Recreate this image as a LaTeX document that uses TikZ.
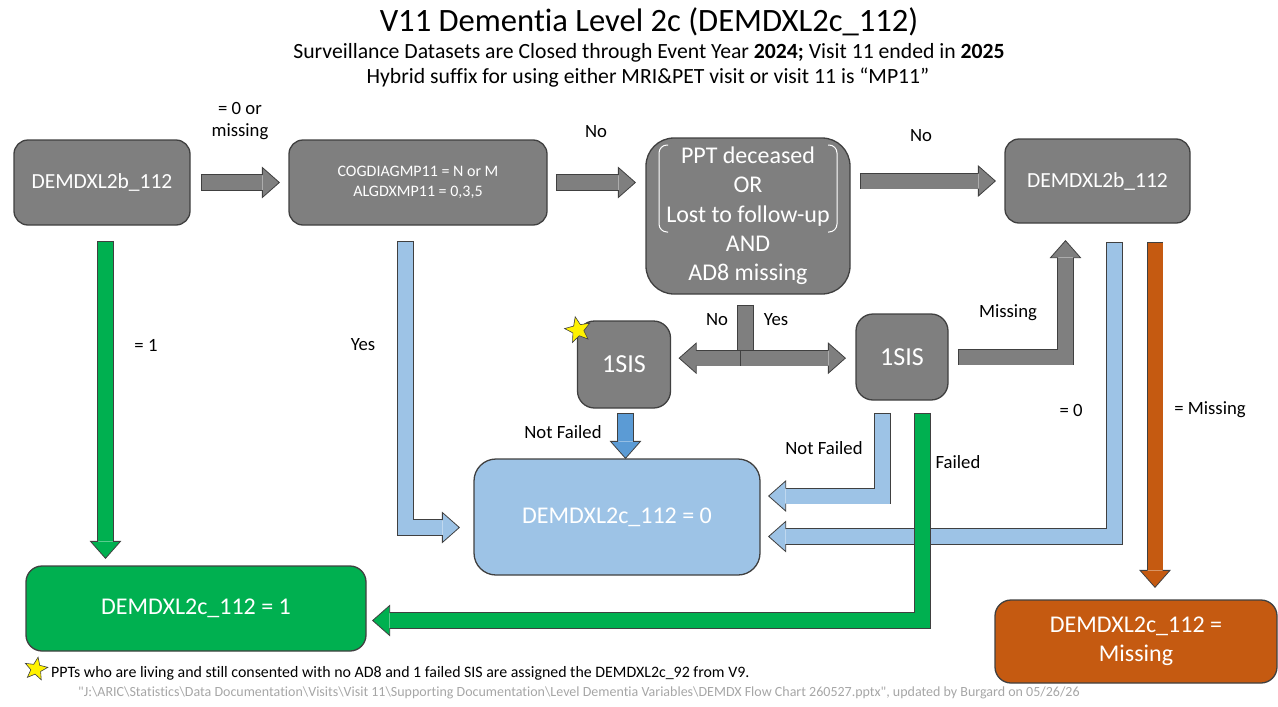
\documentclass[tikz,border=0pt]{standalone}
\usepackage{fontspec}
\setmainfont{Carlito}[Ligatures=NoCommon]
\usetikzlibrary{calc,shapes.geometric}
\definecolor{boxgray}{HTML}{7F7F7F}
\definecolor{edgec}{HTML}{404040}
\definecolor{lblue}{HTML}{9DC3E6}
\definecolor{mblue}{HTML}{5B9BD5}
\definecolor{dgreen}{HTML}{00B050}
\definecolor{rust}{HTML}{C55A11}
\definecolor{pathgray}{HTML}{A6A6A6}
\newcommand\fs[2]{\fontsize{#1}{#2}\selectfont}
\begin{document}
\begin{tikzpicture}[x=1pt, y=-1pt,
  box/.style={draw=edgec, line width=1.3pt, rounded corners=#1, align=center, text=white, inner sep=0pt},
  box/.default=14pt,
  bar/.style={line width=15pt, draw=#1, line join=miter, preaction={draw=edgec, line width=16.6pt, shorten <=-0.8pt}},
  hd/.style={fill=#1, draw=edgec, line width=0.8pt, line join=miter},
  lbl/.style={font=\fs{18.7}{22.5}, align=center},
  pics/bhead/.style={code={\filldraw[pic actions] (0,-7.5) -- (0,-15) -- (17,0) -- (0,15) -- (0,7.5);}}]
\useasboundingbox (0,0) rectangle (1278,707);
%
% title
\node[anchor=base, font=\fs{32.6}{38}] (title) at (649,31) {V11 Dementia Level 2c (DEMDXL2c\_112)};
\node[anchor=base, font=\fs{21.7}{25}] (sub1) at (649,58) {Surveillance Datasets are Closed through Event Year \textbf{2024;} Visit 11 ended in \textbf{2025}};
\node[anchor=base, font=\fs{21.7}{25}] (sub2) at (648,83) {Hybrid suffix for using either MRI\&PET visit or visit 11 is “MP11”};
%
% boxes
\node[box, fill=boxgray, minimum width=176pt, minimum height=85pt, font=\fs{21.5}{26}] (A) at (102,182.5) {DEMDXL2b\_112};
\node[box, fill=boxgray, minimum width=258pt, minimum height=85pt, font=\fs{16}{20}] (B) at (418,182.5) {COGDIAGMP11 = N or M\\ALGDXMP11 = 0,3,5};
\node[box=28pt, fill=boxgray, minimum width=204pt, minimum height=156pt, font=\fs{24}{29.3}] (C) at (748,216) {PPT deceased\\OR\\Lost to follow-up\\AND\\AD8 missing};
\node[box, fill=boxgray, minimum width=185pt, minimum height=84pt, font=\fs{21.5}{26}] (D) at (1097.5,181) {DEMDXL2b\_112};
\node[box=17pt, fill=boxgray, minimum width=93pt, minimum height=87pt, font=\fs{26}{30}] (E) at (624,364.5) {1SIS};
\node[box=17pt, fill=boxgray, minimum width=92pt, minimum height=86pt, font=\fs{26}{30}] (F) at (902,357) {1SIS};
\node[box=22pt, fill=lblue, minimum width=286pt, minimum height=116pt, font=\fs{24}{29}] (G) at (617,517) {DEMDXL2c\_112 = 0};
\node[box=16pt, fill=dgreen, minimum width=340pt, minimum height=85pt, font=\fs{24}{29}] (H) at (196,608.5) {DEMDXL2c\_112 = 1};
\node[box=16pt, fill=rust, minimum width=282pt, minimum height=83pt, font=\fs{24}{29.3}] (I) at (1136,641.5) {DEMDXL2c\_112 =\\Missing};
%
% bracket pair inside C
\draw[white, line width=1pt, rounded corners=8pt, shift={(C.center)}] (-80,-71) -| (-89,16) -- (-80,16);
\draw[white, line width=1pt, rounded corners=8pt, shift={(C.center)}] (80,-71) -| (89,16) -- (80,16);
%
% stars
\node[star, star points=5, star point ratio=2.3, fill=yellow, draw=edgec, line width=0.6pt, minimum size=27pt, inner sep=0pt, rotate=12] (st1) at (578,330) {};
\node[star, star points=5, star point ratio=2.3, fill=yellow, draw=edgec, line width=0.6pt, minimum size=24pt, inner sep=0pt, rotate=-10] (st2) at (36,669) {};
%
% top row
\draw[bar=boxgray] ($(A.east)+(11,0)$) -- ($(B.west)+(-26,0)$) coordinate (abH);
\pic[hd=boxgray] at (abH) {bhead};
\draw[bar=boxgray] ($(B.east)+(9,0)$) -- ($(B.east -| C.west)+(-27,0)$) coordinate (bcH);
\pic[hd=boxgray] at (bcH) {bhead};
\draw[bar=boxgray] ($(D.west -| C.east)+(10,0)$) -- ($(D.west)+(-26,0)$) coordinate (cdH);
\pic[hd=boxgray] at (cdH) {bhead};
%
% fork under C
\coordinate (fork) at ($(C.south)+(-2.5,63.5)$);
\draw[bar=boxgray] ($(C.south)+(-2.5,11)$) -- (fork);
\draw[bar=boxgray] ($(fork)+(-5,0)$) -- ($(fork -| E.east)+(25,0)$) coordinate (feH);
\pic[hd=boxgray, rotate=180] at (feH) {bhead};
\draw[bar=boxgray] ($(fork)+(-5,0)$) -- ($(fork -| F.west)+(-27,0)$) coordinate (ffH);
\pic[hd=boxgray] at (ffH) {bhead};
%
% 1SIS back to D
\draw[bar=boxgray] ($(F.east)+(10,0)$) -| ($(D.south)+(-32,34)$) coordinate (fdH);
\pic[hd=boxgray, rotate=90] at (fdH) {bhead};
%
% down connectors
\draw[bar=dgreen] ($(A.south)+(3.5,16)$) -- ($(H.north)+(-90.5,-24)$) coordinate (ahH);
\pic[hd=dgreen, rotate=-90] at (ahH) {bhead};
\draw[bar=lblue] ($(B.south)+(-12.5,16)$) |- ($(G.west)+(-31,10.5)$) coordinate (bgH);
\pic[hd=lblue] at (bgH) {bhead};
\draw[bar=mblue] ($(E.south)+(1.5,5)$) -- ($(G.north)+(8.5,-17)$) coordinate (egH);
\pic[hd=mblue, rotate=-90] at (egH) {bhead};
\draw[bar=lblue] ($(F.south)+(-19.5,13)$) |- ($(G.east)+(25,-21)$) coordinate (fgH);
\pic[hd=lblue, rotate=180] at (fgH) {bhead};
\draw[bar=lblue] ($(D.south)+(17,19)$) |- ($(G.east)+(25,19.5)$) coordinate (dgH);
\pic[hd=lblue, rotate=180] at (dgH) {bhead};
\draw[bar=rust] ($(D.south)+(57.5,19)$) -- ($(I.north)+(19,-29)$) coordinate (diH);
\pic[hd=rust, rotate=-90] at (diH) {bhead};
\draw[bar=dgreen] ($(F.south)+(20.5,13)$) |- ($(H.east)+(23,12)$) coordinate (fhH);
\pic[hd=dgreen, rotate=180] at (fhH) {bhead};
%
% labels
\node[lbl] (l1) at (240,121) {= 0 or\\missing};
\node[lbl] (l2) at (596,132) {No};
\node[lbl] (l3) at (921,136) {No};
\node[lbl] (l4) at (146,345) {= 1};
\node[lbl] (l5) at (363,345) {Yes};
\node[lbl] (l6) at (717,320) {No};
\node[lbl] (l7) at (776,320) {Yes};
\node[lbl] (l8) at (1008,313) {Missing};
\node[lbl] (l9) at (563,432) {Not Failed};
\node[lbl] (l10) at (824,448) {Not Failed};
\node[lbl] (l11) at (958,462) {Failed};
\node[lbl] (l12) at (1071,410) {= 0};
\node[lbl] (l13) at (1210,410) {= Missing};
%
% footer
\node[anchor=west, inner sep=0pt, font=\fs{15.9}{19}] (note) at (51,673) {PPTs who are living and still consented with no AD8 and 1 failed SIS are assigned the DEMDXL2c\_92 from V9.};
\node[anchor=west, inner sep=0pt, text=pathgray, font=\fs{14}{17}] (src) at (78,693) {\textquotedbl J:\textbackslash ARIC\textbackslash Statistics\textbackslash Data Documentation\textbackslash Visits\textbackslash Visit 11\textbackslash Supporting Documentation\textbackslash Level Dementia Variables\textbackslash DEMDX Flow Chart 260527.pptx\textquotedbl, updated by Burgard on 05/26/26};
\end{tikzpicture}
\end{document}
